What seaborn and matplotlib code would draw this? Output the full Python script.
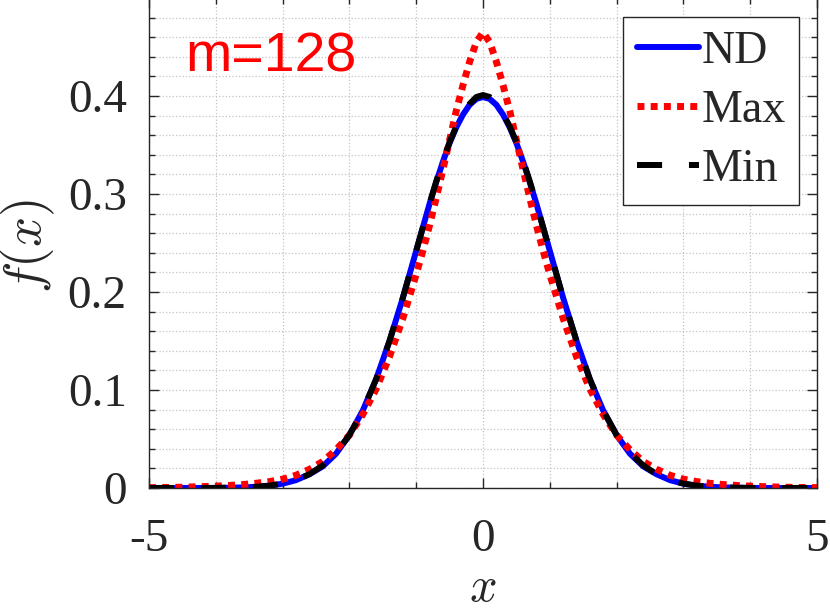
import matplotlib
matplotlib.use("Agg")
import matplotlib.pyplot as plt
from matplotlib.ticker import MultipleLocator, FixedLocator
import seaborn as sns

# right half of the curves (they are symmetric about x = 0)
x_half = [0.0, 0.1, 0.2, 0.3, 0.4, 0.5, 0.6, 0.7, 0.8, 0.9, 1.0, 1.2, 1.4, 1.6,
          1.8, 2.0, 2.2, 2.4, 2.6, 2.8, 3.0, 3.2, 3.4, 3.6, 3.8, 4.0, 4.2, 4.4,
          4.6, 4.8, 5.0]
nd_half = [0.399, 0.397, 0.391, 0.381, 0.368, 0.352, 0.333, 0.312, 0.290, 0.266,
           0.242, 0.194, 0.150, 0.111, 0.079, 0.054, 0.035, 0.022, 0.014, 0.008,
           0.0044, 0.0024, 0.0012, 0.0006, 0.0003, 0.0001, 0.0, 0.0, 0.0, 0.0, 0.0]
max_half = [0.465, 0.455, 0.435, 0.411, 0.385, 0.355, 0.325, 0.296, 0.268, 0.242,
            0.218, 0.173, 0.134, 0.101, 0.075, 0.054, 0.039, 0.027, 0.019, 0.013,
            0.009, 0.0065, 0.0048, 0.0035, 0.0026, 0.0019, 0.0014, 0.0010, 0.0007,
            0.0005, 0.0004]
min_half = [0.401, 0.399, 0.392, 0.382, 0.369, 0.353, 0.334, 0.313, 0.290, 0.266,
            0.242, 0.194, 0.150, 0.111, 0.079, 0.054, 0.036, 0.023, 0.014, 0.008,
            0.0045, 0.0024, 0.0012, 0.0006, 0.0003, 0.0001, 0.0, 0.0, 0.0, 0.0, 0.0]

y_ticks = [0, 0.1, 0.2, 0.3, 0.4]
y_ticklabels = ["0", "0.1", "0.2", "0.3", "0.4"]
x_ticks = [-5, 0, 5]
x_ticklabels = ["-5", "0", "5"]


def mirror(vals, neg=False):
    left = [-v if neg else v for v in reversed(vals[1:])]
    return left + list(vals)


x = mirror(x_half, neg=True)
nd = mirror(nd_half)
mx = mirror(max_half)
mn = mirror(min_half)

sns.set_theme(style="white")
plt.rcParams["font.family"] = ["Liberation Serif", "DejaVu Serif"]
plt.rcParams["mathtext.fontset"] = "cm"
plt.rcParams["axes.unicode_minus"] = False

fig = plt.figure(figsize=(8.3, 6.14), dpi=100)
ax = fig.add_axes([149 / 830, 1 - 488 / 614, 668 / 830, 490 / 614])

sns.lineplot(x=x, y=nd, ax=ax, color=(0, 0, 1), lw=4.3, label="ND",
             solid_capstyle="round", solid_joinstyle="round", sort=False)
sns.lineplot(x=x, y=mx, ax=ax, color=(1, 0, 0), lw=5.0, label="Max",
             linestyle=(0, (1, 0.9)), dash_capstyle="butt", sort=False)
sns.lineplot(x=x, y=mn, ax=ax, color="black", lw=4.3, label="Min",
             linestyle=(0, (4.2, 4.5)), dash_capstyle="butt",
             dash_joinstyle="round", sort=False)

ax.set_xlim(-5, 5)
ax.set_ylim(0, 0.5)
ax.xaxis.set_major_locator(FixedLocator(x_ticks))
ax.set_xticklabels(x_ticklabels)
ax.xaxis.set_minor_locator(MultipleLocator(1))
ax.yaxis.set_major_locator(FixedLocator(y_ticks))
ax.set_yticklabels(y_ticklabels)
ax.yaxis.set_minor_locator(MultipleLocator(0.02))

ax.tick_params(which="both", direction="in", left=True, right=True,
               bottom=True, top=True, color="#262626", width=1)
ax.tick_params(which="major", length=7, labelsize=34)
ax.tick_params(which="minor", length=4)
ax.tick_params(axis="y", which="major", pad=16)
ax.tick_params(axis="x", which="major", pad=22)

ax.grid(which="both", ls=":", color="#c4c4c4", lw=0.9)
for s in ax.spines.values():
    s.set_color("#262626")
    s.set_linewidth(1)

ax.set_xlabel("$x$", fontsize=35)
ax.xaxis.set_label_coords(0.5, -0.252)
ax.xaxis.label.set_va("bottom")
ax.set_ylabel("$f(x)$", fontsize=38)
ax.yaxis.set_label_coords(-0.181, 0.494)
ax.yaxis.label.set_va("center")

ax.text(-4.46, 0.425, "m=128", color="red", fontsize=40,
        family="Liberation Sans", va="baseline")

leg = ax.legend(loc="upper right", bbox_to_anchor=(799 / 830, 1 - 17 / 614),
                bbox_transform=fig.transFigure, borderaxespad=0, fontsize=33,
                handlelength=1.35, handletextpad=0.05, labelspacing=0.36,
                borderpad=0.3, fancybox=False, framealpha=1)
leg.get_frame().set_edgecolor("#262626")
leg.get_frame().set_linewidth(1)

fig.savefig("out.png", dpi=100)
